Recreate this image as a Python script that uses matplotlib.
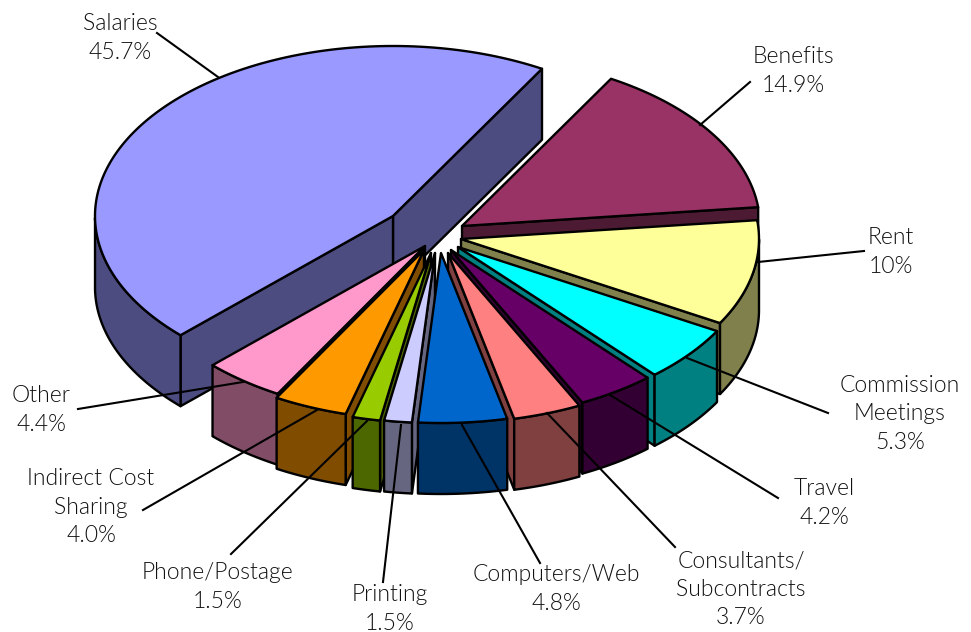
"""Exploded 3D style expense pie, drawn by hand on a pixel-sized axes."""

import matplotlib

matplotlib.use("Agg")
import matplotlib.pyplot as plt
import numpy as np
from matplotlib.patches import Polygon

categories = [
    "Salaries", "Benefits", "Rent", "Commission\nMeetings", "Travel",
    "Consultants/\nSubcontracts", "Computers/Web", "Printing",
    "Phone/Postage", "Indirect Cost\nSharing", "Other",
]
values = [45.7, 14.9, 10.0, 5.3, 4.2, 3.7, 4.8, 1.5, 1.5, 4.0, 4.4]
value_labels = [
    "45.7%", "14.9%", "10%", "5.3%", "4.2%", "3.7%", "4.8%", "1.5%", "1.5%",
    "4.0%", "4.4%",
]

top_colors = [
    "#9999FF", "#993366", "#FFFF99", "#00FFFF", "#660066", "#FF8080",
    "#0066CC", "#CCCCFF", "#99CC00", "#FF9900", "#FF99CC",
]
side_colors = [
    "#4C4C80", "#4C1A33", "#80804C", "#008080", "#330033", "#804040",
    "#003366", "#666680", "#4C6600", "#804C00", "#804C66",
]

# layout, in pixels of the 971x632 picture
RX, RY, DEPTH = 298, 170, 71
START_ANGLE = 60
apexes = [
    (393, 216), (462, 226), (461, 239), (458, 247), (451, 250), (448, 253),
    (441, 253), (435, 253), (431, 253), (424, 250), (425, 246),
]
draw_order = [0, 1, 2, 3, 4, 5, 10, 9, 8, 7, 6]
label_pos = [
    (120, 38), (793, 71), (891, 252), (900, 414), (824, 503), (741, 589),
    (556, 589), (390, 609), (218, 587), (91, 507), (41, 410),
]
leaders = [
    ((157, 33), (218, 77)), ((750, 82), (700, 125)), ((864, 251), (758, 262)),
    ((828, 413), (687, 358)), ((778, 498), (610, 395)),
    ((675, 547), (547, 413)), ((540, 563), (462, 425)),
    ((383, 582), (401, 425)), ((231, 554), (367, 421)),
    ((143, 510), (317, 410)), ((78, 409), (243, 382)),
]

plt.rcParams["font.family"] = ["Lato", "DejaVu Sans"]

fig = plt.figure(figsize=(9.71, 6.32), dpi=100)
ax = fig.add_axes([0, 0, 1, 1])
ax.set_xlim(0, 971)
ax.set_ylim(632, 0)
ax.axis("off")


def rim(apex, angles):
    rad = np.radians(angles)
    return np.column_stack(
        [apex[0] + RX * np.cos(rad), apex[1] - RY * np.sin(rad)]
    )


def face(points, color, z):
    ax.add_patch(
        Polygon(points, closed=True, facecolor=color, edgecolor="black",
                linewidth=1.7, joinstyle="round", zorder=z)
    )


# Salaries wraps over the top and ends at START_ANGLE, the rest go clockwise
sweep = np.array(values) * 3.6
lows = START_ANGLE - np.cumsum(np.concatenate([[0], sweep[1:]]))
highs = lows + sweep
lows[0], highs[0] = START_ANGLE, START_ANGLE + sweep[0]
down = np.array([0, DEPTH])

for z, i in enumerate(draw_order):
    apex = np.array(apexes[i], dtype=float)
    low, high = lows[i], highs[i]
    base = z * 10

    for edge, visible in (
        (low, np.cos(np.radians(low)) > 0),
        (high, np.cos(np.radians(high)) < 0),
    ):
        if visible:
            end = rim(apex, [edge])[0]
            face([apex, end, end + down, apex + down], side_colors[i], base + 1)

    # outer wall only where the rim faces the viewer
    angles = np.linspace(low, high, 200)
    front = angles[np.sin(np.radians(angles)) < 0]
    if len(front) > 1:
        arc = rim(apex, front)
        face(np.vstack([arc, arc[::-1] + down]), side_colors[i], base + 2)

    arc = rim(apex, angles)
    face(np.vstack([apex, arc]), top_colors[i], base + 3)

for (x0, y0), (x1, y1) in leaders:
    ax.plot([x0, x1], [y0, y1], color="black", linewidth=1.5, zorder=500)

for cat, lab, (x, y) in zip(categories, value_labels, label_pos):
    ax.text(x, y, f"{cat}\n{lab}", ha="center", va="center", fontsize=16.5,
            fontweight=300, color="#111111", linespacing=1.42, zorder=600)

fig.savefig("out.png", dpi=100)
